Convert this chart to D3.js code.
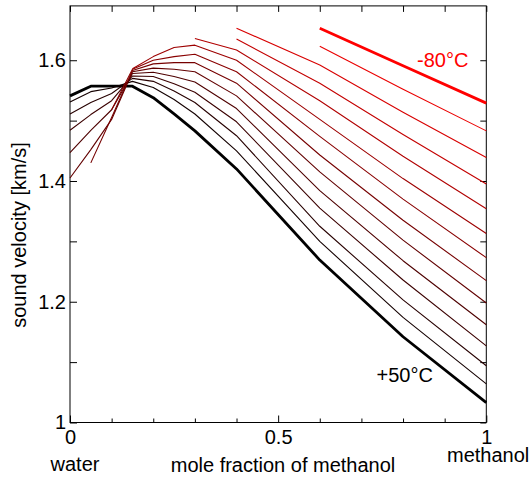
<!DOCTYPE html>
<html>
<head>
<meta charset="utf-8">
<script src="https://cdn.jsdelivr.net/npm/d3@7"></script>
<style>
  body { margin: 0; background: #fff; }
  svg text { font-family: "Liberation Sans", Arial, sans-serif; font-size: 20px; }
</style>
</head>
<body>
<div id="chart-area"></div>
<script>
// mole fraction of methanol at which the curves are sampled
const molefrac = [0, 0.05, 0.1, 0.15, 0.2, 0.25, 0.3, 0.4, 0.6, 0.8, 1];

// temperatures (deg C), warm to cold
const temps = [50, 40, 30, 20, 10, 0, -10, -20, -30, -40, -50, -60, -70, -80];

// sound velocity [km/s], one row per temperature, null = frozen / no data
const v50  = [1.541, 1.557, 1.557, 1.557, 1.538, 1.511, 1.483, 1.420, 1.269, 1.142, 1.033];
const v40  = [1.531, 1.548, 1.554, 1.565, 1.555, 1.535, 1.511, 1.450, 1.300, 1.174, 1.064];
const v30  = [1.511, 1.530, 1.545, 1.570, 1.565, 1.549, 1.530, 1.475, 1.325, 1.203, 1.094];
const v20  = [1.484, 1.510, 1.533, 1.574, 1.573, 1.561, 1.547, 1.498, 1.355, 1.236, 1.127];
const v10  = [1.447, 1.484, 1.518, 1.578, 1.580, 1.573, 1.564, 1.520, 1.384, 1.268, 1.162];
const v0   = [1.405, 1.452, 1.502, 1.581, 1.587, 1.585, 1.581, 1.541, 1.415, 1.302, 1.198];
const vm10 = [null, 1.430, 1.505, 1.583, 1.594, 1.596, 1.596, 1.562, 1.443, 1.335, 1.235];
const vm20 = [null, null, 1.518, 1.585, 1.600, 1.606, 1.610, 1.581, 1.474, 1.370, 1.273];
const vm30 = [null, null, null, 1.586, 1.606, 1.621, 1.625, 1.600, 1.502, 1.404, 1.313];
const vm40 = [null, null, null, null, null, null, 1.636, 1.617, 1.533, 1.441, 1.354];
const vm50 = [null, null, null, null, null, null, null, 1.635, 1.562, 1.477, 1.395];
const vm60 = [null, null, null, null, null, null, null, 1.653, 1.592, 1.514, 1.439];
const vm70 = [null, null, null, null, null, null, null, null, 1.623, 1.552, 1.483];
const vm80 = [null, null, null, null, null, null, null, null, 1.653, 1.591, 1.529];

const velocities = [v50, v40, v30, v20, v10, v0, vm10, vm20, vm30, vm40, vm50, vm60, vm70, vm80];

const xTickLabels = [0, 0.5, 1];
const yTickLabels = [1, 1.2, 1.4, 1.6];

function drawChart() {
    const width = 530;
    const height = 481;
    const left = 70, right = 486.3, top = 5.9, bottom = 422.5;

    const svg = d3.select("#chart-area")
        .append("svg")
        .attr("width", width)
        .attr("height", height);

    const x = d3.scaleLinear().domain([0, 1]).range([left, right]);
    const y = d3.scaleLinear().domain([1, 1.69]).range([bottom, top]);

    // black (warm) -> red (cold)
    const color = d3.scaleLinear().domain([50, -80]).range(["#000000", "#ff0000"]);

    const xTicks = d3.range(0, 1.0001, 0.1).map(d => +d.toFixed(1));
    const yTicks = d3.range(1, 1.69, 0.1).map(d => +d.toFixed(1));

    // bottom axis, ticks pointing in
    const gx = svg.append("g")
        .attr("transform", `translate(0,${bottom})`)
        .call(d3.axisBottom(x).tickValues(xTicks).tickSize(-4).tickSizeOuter(0).tickPadding(7)
            .tickFormat(d => xTickLabels.includes(d) ? d3.format("~g")(d) : ""));
    gx.selectAll(".tick line").attr("y2", d => xTickLabels.includes(d) ? -7 : -4);

    svg.append("g")
        .attr("transform", `translate(0,${top})`)
        .call(d3.axisTop(x).tickValues(xTicks).tickSize(-6).tickSizeOuter(0).tickFormat(""));

    svg.append("g")
        .attr("transform", `translate(${left},0)`)
        .call(d3.axisLeft(y).tickValues(yTicks).tickSize(-7).tickSizeOuter(0).tickPadding(4)
            .tickFormat(d => yTickLabels.includes(d) ? d3.format("~g")(d) : ""));

    svg.append("g")
        .attr("transform", `translate(${right},0)`)
        .call(d3.axisRight(y).tickValues(yTicks).tickSize(-6).tickSizeOuter(0).tickFormat(""));

    svg.selectAll(".domain").remove();
    svg.selectAll(".tick line").attr("stroke", "#000");
    svg.selectAll(".tick text").attr("fill", "#000").style("font-size", "20px");

    // frame
    svg.append("rect")
        .attr("x", left).attr("y", top)
        .attr("width", right - left).attr("height", bottom - top)
        .attr("fill", "none").attr("stroke", "#000");

    // curves
    const line = d3.line()
        .defined(d => d[1] !== null)
        .x(d => x(d[0]))
        .y(d => y(d[1]));

    const series = temps.map((t, i) => ({
        temp: t,
        points: molefrac.map((m, j) => [m, velocities[i][j]])
    }));

    svg.append("g")
        .attr("fill", "none")
        .selectAll("path")
        .data(series)
        .join("path")
        .attr("stroke", d => color(d.temp))
        .attr("stroke-width", d => (d.temp === 50 || d.temp === -80) ? 2.8 : 1.1)
        .attr("stroke-linejoin", "round")
        .attr("d", d => line(d.points));

    // labels
    svg.append("text").attr("x", 417).attr("y", 67).attr("fill", "#ff0000").text("-80°C");
    svg.append("text").attr("x", 376.5).attr("y", 382).attr("fill", "#000").text("+50°C");

    svg.append("text").attr("x", 75).attr("y", 471).attr("text-anchor", "middle").text("water");
    svg.append("text").attr("x", 283).attr("y", 472).attr("text-anchor", "middle").text("mole fraction of methanol");
    svg.append("text").attr("x", 447).attr("y", 462).text("methanol");

    svg.append("text")
        .attr("transform", "translate(25.5,235) rotate(-90)")
        .attr("text-anchor", "middle")
        .text("sound velocity [km/s]");
}

drawChart();
</script>
</body>
</html>
